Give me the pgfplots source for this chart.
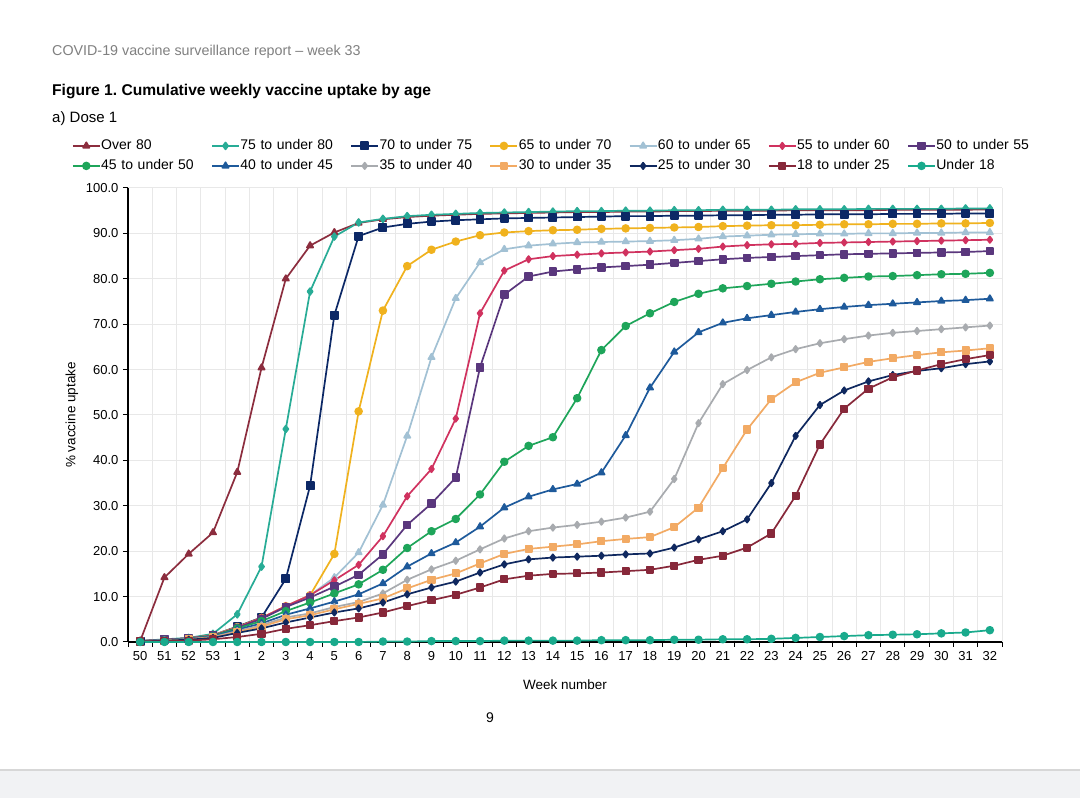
\documentclass[border=0pt]{standalone}
\usepackage{pgfplots}
\usepackage{pgfplotstable}
\pgfplotsset{compat=1.18}
\usepackage{fontspec}
\setmainfont{Liberation Sans}
\frenchspacing

\definecolor{cA}{RGB}{140,45,62}
\definecolor{cB}{RGB}{40,172,150}
\definecolor{cC}{RGB}{12,40,102}
\definecolor{cD}{RGB}{240,178,30}
\definecolor{cE}{RGB}{162,193,212}
\definecolor{cF}{RGB}{208,50,95}
\definecolor{cG}{RGB}{90,55,125}
\definecolor{cH}{RGB}{30,165,90}
\definecolor{cI}{RGB}{30,90,155}
\definecolor{cJ}{RGB}{168,171,175}
\definecolor{cK}{RGB}{242,170,100}
\definecolor{cL}{RGB}{15,40,95}
\definecolor{cM}{RGB}{135,40,58}
\definecolor{cN}{RGB}{25,170,140}
\definecolor{gridc}{RGB}{232,232,232}
\definecolor{hdr}{RGB}{128,128,128}
\definecolor{band}{RGB}{241,242,244}
\definecolor{bandline}{RGB}{215,215,215}

\pgfplotstableread{
x A B C D E F G H I J K L M N
0 0.2 0.2 0.2 0.2 0.2 0.2 0.2 0.2 0.2 0.1 0.1 0.1 0.1 0
1 14.2 0.6 0.5 0.5 0.5 0.5 0.5 0.4 0.4 0.4 0.3 0.3 0.2 0
2 19.4 0.9 0.8 0.8 0.8 0.8 0.8 0.7 0.7 0.6 0.6 0.5 0.3 0
3 24.1 1.8 1.5 1.5 1.4 1.4 1.4 1.3 1.2 1.1 1.0 0.9 0.6 0
4 37.4 6.1 3.4 3.3 3.2 3.2 3.1 3.0 2.7 2.4 2.2 2.0 1.1 0
5 60.4 16.6 5.4 5.3 5.2 5.3 5.1 4.6 4.1 3.7 3.4 3.0 1.8 0
6 80.0 46.9 13.9 7.9 7.8 7.9 7.7 6.8 6.0 5.4 5.0 4.3 2.9 0
7 87.3 77.2 34.4 10.3 10.3 10.3 9.8 8.7 7.4 6.3 5.9 5.4 3.7 0
8 90.2 89.3 72.0 19.4 14.2 13.6 12.2 10.7 8.9 7.7 7.2 6.5 4.6 0
9 92.3 92.4 89.4 50.8 19.7 17.0 14.8 12.7 10.5 8.8 8.4 7.4 5.4 0
10 93.1 93.2 91.3 73.0 30.2 23.3 19.3 15.9 12.9 10.7 9.6 8.7 6.5 0.1
11 93.6 93.8 92.1 82.8 45.4 32.1 25.8 20.7 16.6 13.7 11.8 10.5 7.9 0.1
12 93.9 94.1 92.6 86.4 62.7 38.1 30.5 24.4 19.5 16.0 13.7 12.0 9.2 0.2
13 94.1 94.3 92.9 88.2 75.7 49.2 36.2 27.1 21.9 17.9 15.1 13.3 10.4 0.2
14 94.3 94.5 93.1 89.6 83.6 72.4 60.5 32.5 25.4 20.4 17.3 15.3 12.0 0.2
15 94.4 94.6 93.3 90.2 86.5 81.8 76.5 39.7 29.6 22.8 19.4 17.1 13.8 0.3
16 94.5 94.7 93.4 90.5 87.3 84.3 80.5 43.2 32.0 24.4 20.5 18.2 14.6 0.3
17 94.6 94.8 93.5 90.7 87.7 85.0 81.6 45.1 33.6 25.2 21.0 18.6 15.0 0.3
18 94.7 94.9 93.6 90.8 88.0 85.3 82.1 53.7 34.8 25.8 21.5 18.8 15.1 0.3
19 94.7 94.9 93.7 91.0 88.1 85.6 82.5 64.3 37.3 26.5 22.2 19.0 15.3 0.4
20 94.8 95.0 93.8 91.1 88.2 85.8 82.8 69.6 45.5 27.4 22.7 19.3 15.6 0.4
21 94.8 95.0 93.8 91.2 88.3 86.0 83.1 72.4 56.0 28.7 23.1 19.5 15.9 0.4
22 94.9 95.1 93.9 91.3 88.5 86.3 83.5 74.9 63.9 35.9 25.3 20.8 16.8 0.5
23 94.9 95.1 93.9 91.4 88.8 86.6 83.9 76.7 68.2 48.2 29.6 22.6 18.1 0.5
24 95.0 95.2 94.0 91.6 89.3 87.1 84.3 77.9 70.3 56.8 38.3 24.4 19.0 0.6
25 95.0 95.2 94.0 91.7 89.5 87.4 84.6 78.4 71.3 59.9 46.8 27.0 20.8 0.6
26 95.0 95.2 94.1 91.8 89.7 87.6 84.8 78.9 72.0 62.7 53.5 35.0 23.9 0.7
27 95.1 95.3 94.1 91.8 89.8 87.7 85.0 79.4 72.7 64.5 57.2 45.4 32.2 0.9
28 95.1 95.3 94.2 91.9 89.9 87.9 85.2 79.9 73.3 65.8 59.3 52.2 43.5 1.1
29 95.1 95.3 94.2 92.0 89.9 88.0 85.4 80.2 73.8 66.7 60.5 55.4 51.4 1.3
30 95.1 95.4 94.2 92.0 90.0 88.1 85.5 80.5 74.2 67.5 61.7 57.4 55.8 1.5
31 95.2 95.4 94.3 92.1 90.0 88.2 85.6 80.6 74.5 68.1 62.5 58.8 58.3 1.6
32 95.2 95.4 94.3 92.1 90.1 88.3 85.7 80.8 74.8 68.5 63.2 59.7 59.8 1.7
33 95.2 95.4 94.3 92.2 90.1 88.4 85.8 81.0 75.1 68.9 63.8 60.3 61.2 1.9
34 95.2 95.5 94.4 92.2 90.2 88.5 85.9 81.1 75.3 69.3 64.2 61.2 62.3 2.1
35 95.3 95.5 94.4 92.3 90.2 88.6 86.1 81.3 75.6 69.7 64.7 61.8 63.2 2.6
}\data

\begin{document}
\begin{tikzpicture}
\path[use as bounding box, fill=white] (0pt,0pt) rectangle (1080pt,805pt);
\fill[band] (0pt,7pt) rectangle (1080pt,35pt);
\draw[bandline, line width=1.5pt] (0pt,35pt) -- (1080pt,35pt);
\node[anchor=west, inner sep=0pt, text=hdr, font=\fontsize{14.3}{17}\selectfont] at (52pt,753pt) {COVID-19 vaccine surveillance report – week 33};
\node[anchor=west, inner sep=0pt, font=\fontsize{15.6}{18}\selectfont\bfseries] at (52pt,713pt) {Figure 1. Cumulative weekly vaccine uptake by age};
\node[anchor=west, inner sep=0pt, font=\fontsize{15}{18}\selectfont] at (52pt,686pt) {a) Dose 1};
\node[inner sep=0pt, font=\fontsize{14}{17}\selectfont] at (490pt,87pt) {9};
\begin{axis}[
  at={(128pt,163pt)}, anchor=south west,
  scale only axis, width=874pt, height=454pt,
  xmin=-0.5, xmax=35.5, ymin=0, ymax=100,
  axis x line*=bottom, axis y line*=left,
  axis line style={black, line width=1.2pt},
  /pgf/number format/assume math mode=true,
  tick label style={font=\fontsize{13}{15}\selectfont},
  xtick={0,...,35},
  xticklabels={50,51,52,53,1,2,3,4,5,6,7,8,9,10,11,12,13,14,15,16,17,18,19,20,21,22,23,24,25,26,27,28,29,30,31,32},
  major x tick style={draw=none},
  minor xtick={-0.5,0.5,...,35.5},
  minor tick length=5pt,
  major tick length=5pt,
  tick align=outside,
  xminorgrids, ymajorgrids,
  minor x grid style={gridc, line width=1pt},
  major y grid style={gridc, line width=1pt},
  tick style={black, line width=1pt},
  ytick={0,10,...,100},
  yticklabel={\pgfmathprintnumber[fixed,fixed zerofill,precision=1]{\tick}},
  yticklabel style={xshift=-1pt},
  xticklabel style={yshift=-1pt},
  xlabel={Week number},
  ylabel={\% vaccine uptake},
  label style={font=\fontsize{13.5}{16}\selectfont},
  xlabel style={at={(axis description cs:0.5,-0.0947)}, anchor=center},
  ylabel style={at={(axis description cs:-0.0641,0.5)}, anchor=center},
  legend columns=7,
  legend cell align=left,
  legend image code/.code={\draw[mark repeat=2,mark phase=2,#1] plot coordinates {(0pt,0pt) (13.5pt,0pt) (27pt,0pt)};},
  legend style={draw=none, fill=none, at={(rel axis cs:-0.0641,1.107)}, anchor=north west,
    font=\fontsize{14}{16}\selectfont, inner sep=0pt, outer sep=0pt,
    column sep=0pt, row sep=7pt,
    nodes={inner xsep=0.5pt, inner ysep=0pt, text width=109.5pt, text height=10pt, text depth=3pt}},
  every axis plot/.append style={line width=1.7pt, line join=round},
  clip=false,
]
\addplot[color=cA, mark=triangle*, mark size=3.6pt, mark options={solid}] table[x=x,y=A]{\data};
\addlegendentry{Over 80}
\addplot[color=cB, mark=diamond*, mark size=3.4pt, mark options={solid}] table[x=x,y=B]{\data};
\addlegendentry{75 to under 80}
\addplot[color=cC, mark=square*, mark size=3.6pt, mark options={solid}] table[x=x,y=C]{\data};
\addlegendentry{70 to under 75}
\addplot[color=cD, mark=*, mark size=3.4pt, mark options={solid}] table[x=x,y=D]{\data};
\addlegendentry{65 to under 70}
\addplot[color=cE, mark=triangle*, mark size=3.6pt, mark options={solid}] table[x=x,y=E]{\data};
\addlegendentry{60 to under 65}
\addplot[color=cF, mark=diamond*, mark size=3.2pt, mark options={solid}] table[x=x,y=F]{\data};
\addlegendentry{55 to under 60}
\addplot[color=cG, mark=square*, mark size=3.4pt, mark options={solid}] table[x=x,y=G]{\data};
\addlegendentry{50 to under 55}
\addplot[color=cH, mark=*, mark size=3.4pt, mark options={solid}] table[x=x,y=H]{\data};
\addlegendentry{45 to under 50}
\addplot[color=cI, mark=triangle*, mark size=3.6pt, mark options={solid}] table[x=x,y=I]{\data};
\addlegendentry{40 to under 45}
\addplot[color=cJ, mark=diamond*, mark size=3.2pt, mark options={solid}] table[x=x,y=J]{\data};
\addlegendentry{35 to under 40}
\addplot[color=cK, mark=square*, mark size=3.2pt, mark options={solid}] table[x=x,y=K]{\data};
\addlegendentry{30 to under 35}
\addplot[color=cL, mark=diamond*, mark size=3.2pt, mark options={solid}] table[x=x,y=L]{\data};
\addlegendentry{25 to under 30}
\addplot[color=cM, mark=square*, mark size=3.2pt, mark options={solid}] table[x=x,y=M]{\data};
\addlegendentry{18 to under 25}
\addplot[color=cN, mark=*, mark size=3.4pt, mark options={solid}] table[x=x,y=N]{\data};
\addlegendentry{Under 18}
\end{axis}
\end{tikzpicture}
\end{document}
